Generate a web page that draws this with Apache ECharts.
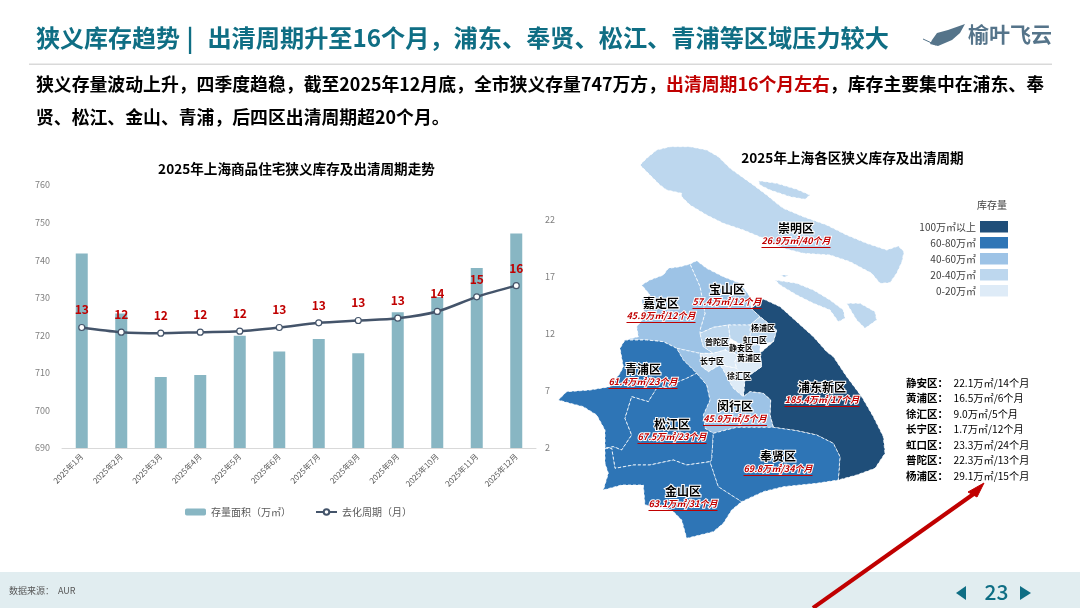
<!DOCTYPE html>
<html><head><meta charset="utf-8">
<style>html,body{margin:0;padding:0;background:#fff}#c{width:1080px;height:608px}</style>
<script src="https://cdn.jsdelivr.net/npm/echarts@6/dist/echarts.min.js"></script>
</head><body><div id="c"></div>
<script>
const FONT='"Noto Sans CJK SC","Noto Sans",sans-serif';
// chart data
const months=['2025年1月','2025年2月','2025年3月','2025年4月','2025年5月','2025年6月','2025年7月','2025年8月','2025年9月','2025年10月','2025年11月','2025年12月'];
const stockArea=[741.8,725.8,708.9,709.4,719.9,715.7,719,715.2,726.1,730.2,737.9,747.1];
const clearCycle=[12.54,12.13,12.04,12.13,12.22,12.54,12.95,13.15,13.35,13.94,15.22,16.2];
const leftTicks=[690,760];
const rightTicks=[2,7,12,17,22];
// district data
const districts=['崇明区','宝山区','嘉定区','青浦区','松江区','闵行区','浦东新区','奉贤区','金山区','杨浦区','虹口区','普陀区','静安区','长宁区','黄浦区','徐汇区'];
const districtStock=[26.9,57.4,45.9,61.4,67.5,45.9,185.4,69.8,63.1,29.1,23.3,22.3,22.1,1.7,16.5,9.0];
const districtMonths=[40,12,12,23,23,5,17,34,31,15,24,13,14,12,6,5];
const sideList=['静安区','黄浦区','徐汇区','长宁区','虹口区','普陀区','杨浦区'];
const smallDistricts=['杨浦区','虹口区','普陀区','静安区','长宁区','黄浦区','徐汇区'];
// map outlines (traced, 1/3 px units from page point 550,140)
const outlines={
'崇明区':[[[270,75],[290,55],[320,30],[360,20],[420,20],[470,30],[505,50],[540,85],[575,110],[610,135],[650,165],[680,190],[700,205],[760,230],[830,255],[890,285],[950,310],[1010,330],[1045,318],[1062,335],[1056,365],[1040,400],[1020,428],[990,430],[965,400],[900,365],[840,345],[760,340],[700,325],[640,295],[580,270],[520,250],[470,225],[420,195],[395,170],[395,160],[350,150],[330,135],[300,105]],
 [[625,122],[680,130],[740,148],[780,165],[765,178],[720,170],[660,150],[630,135]],
 [[675,420],[740,430],[790,450],[840,480],[880,510],[885,535],[865,545],[840,510],[790,490],[740,465],[690,435]],
 [[690,405],[715,405],[705,412]],
 [[890,490],[930,490],[975,515],[980,540],[945,565],[920,540],[905,515]]],
'浦东新区':[[[603,505],[640,477],[690,500],[740,545],[790,590],[830,635],[850,650],[890,710],[935,770],[970,830],[1000,890],[1005,940],[975,985],[920,1005],[865,1020],[870,950],[850,910],[800,885],[740,872],[670,862],[660,825],[662,780],[640,760],[600,755],[580,770],[585,715],[635,680],[630,640],[670,605],[680,570],[630,530]]],
'宝山区':[[[420,372],[440,362],[470,385],[520,410],[570,430],[600,470],[603,505],[630,530],[600,555],[535,555],[490,562],[450,580],[450,570],[465,520],[450,440]]],
'嘉定区':[[[275,435],[300,420],[340,405],[355,385],[390,380],[420,372],[450,440],[465,520],[450,570],[450,580],[460,620],[490,640],[450,640],[380,625],[340,605],[290,600],[225,600],[265,590],[260,560],[285,530],[275,480],[300,465]]],
'杨浦区':[[[600,555],[630,530],[680,570],[670,605],[630,615],[600,590]]],
'虹口区':[[[535,555],[600,555],[600,590],[630,615],[610,615],[575,615],[540,595]]],
'静安区':[[[535,610],[575,615],[610,615],[630,615],[630,640],[600,640],[565,645],[525,630]]],
'普陀区':[[[450,580],[490,562],[535,555],[540,595],[535,610],[525,630],[490,640],[460,620]]],
'长宁区':[[[450,640],[490,640],[525,630],[565,645],[555,665],[560,685],[510,675],[475,695],[455,680]]],
'黄浦区':[[[565,645],[600,640],[630,640],[635,680],[585,715],[560,685],[555,665]]],
'徐汇区':[[[510,675],[560,685],[585,715],[580,770],[550,745],[535,720],[520,690]]],
'闵行区':[[[380,625],[450,640],[455,680],[475,695],[510,675],[520,690],[535,720],[550,745],[580,770],[600,755],[640,760],[662,780],[660,825],[670,862],[610,862],[560,862],[490,880],[465,865],[460,825],[480,780],[470,735],[440,700],[400,660]]],
'青浦区':[[[225,600],[290,600],[340,605],[380,625],[400,660],[440,700],[410,715],[385,725],[370,740],[320,745],[295,785],[245,770],[225,835],[245,885],[215,930],[190,920],[165,925],[165,870],[140,825],[100,800],[60,790],[25,780],[50,755],[120,750],[180,740],[210,700],[220,680],[210,625]]],
'松江区':[[[440,700],[470,735],[480,780],[460,825],[465,865],[490,880],[485,960],[480,965],[410,975],[370,960],[300,975],[250,975],[195,985],[185,925],[165,925],[190,920],[215,930],[245,885],[225,835],[245,770],[295,785],[320,745],[370,740],[385,725],[410,715]]],
'金山区':[[[165,925],[185,925],[195,985],[250,975],[300,975],[370,960],[410,975],[480,965],[505,1040],[575,1085],[545,1110],[520,1150],[490,1175],[410,1195],[395,1140],[365,1110],[320,1100],[285,1095],[280,1035],[215,1035],[160,1050],[175,1000],[165,970]]],
'奉贤区':[[[490,880],[560,862],[610,862],[670,862],[740,872],[800,885],[850,910],[870,950],[865,1020],[800,1030],[700,1040],[640,1055],[575,1085],[505,1040],[480,965],[485,960]]]
};
const labelAt={'崇明区':[796,235],'宝山区':[727,296],'嘉定区':[661,310],'青浦区':[643,376],'松江区':[672,431],'闵行区':[735,413],'浦东新区':[822,394],'奉贤区':[778,463],'金山区':[683,498],'杨浦区':[763,328],'虹口区':[755,340],'普陀区':[717,342],'静安区':[741,348],'长宁区':[712,361],'黄浦区':[749,358],'徐汇区':[739,376]};
const toGeo=r=>r.map(p=>[550+p[0]/3,-(140+p[1]/3)]);
echarts.registerMap('sh',{type:'FeatureCollection',features:Object.keys(outlines).map(n=>({type:'Feature',
  properties:{name:n,cp:[labelAt[n][0],-labelAt[n][1]]},
  geometry:{type:'MultiPolygon',coordinates:outlines[n].map(r=>[toGeo(r)])}}))});
const ctx=document.createElement('canvas').getContext('2d');
function valText(i){return districtStock[i].toFixed(1)+'万㎡/'+districtMonths[i]+'个月';}
function measure(t){ctx.font='italic bold 9px '+FONT;return Math.ceil(ctx.measureText(t).width);}
const mapData=districts.map((n,i)=>{
  const small=smallDistricts.includes(n);
  const t=valText(i);
  return {name:n,value:districtStock[i],label:small?{formatter:'{s|'+n+'}'}:{
    formatter:'{n|'+n+'}\n{v|'+t+'}\n{u| }',
    rich:{n:{fontFamily:FONT,fontSize:12,fontWeight:'bold',color:'#000',lineHeight:14,textBorderColor:'#fff',textBorderWidth:2},
      v:{fontFamily:FONT,fontSize:9,fontStyle:'italic',fontWeight:'bold',color:'#C00000',lineHeight:11,textBorderColor:'#fff',textBorderWidth:2},
      u:{width:measure(t),height:1,lineHeight:2,fontSize:1,backgroundColor:'#C00000'}}}};
});
const g=[];
g.push({type:'rect',z:0,shape:{x:0,y:572,width:1080,height:36},style:{fill:'#E1EDF0'}});
g.push({type:'rect',z:0,shape:{x:29,y:63.5,width:1023,height:1.5},style:{fill:'#D9D9D9'}});
g.push({type:'text',z:5,x:36,y:38,style:{text:'狭义库存趋势',font:'bold 24px '+FONT,fill:'#0F6E84',verticalAlign:'middle'}});
g.push({type:'text',z:5,x:190,y:38,style:{text:'|',font:'bold 24px '+FONT,fill:'#0F6E84',align:'center',verticalAlign:'middle'}});
g.push({type:'text',z:5,x:889,y:38,style:{text:'出清周期升至16个月，浦东、奉贤、松江、青浦等区域压力较大',font:'bold 24.2px '+FONT,fill:'#0F6E84',align:'right',verticalAlign:'middle'}});
const bodyBase={fontFamily:FONT,fontSize:17.85,fontWeight:'bold'};
g.push({type:'text',z:5,x:36,y:84,style:{text:'{a|狭义存量波动上升，四季度趋稳，截至2025年12月底，全市狭义存量747万方，}{r|出清周期16个月左右}{a|，库存主要集中在浦东、奉}',
  verticalAlign:'middle',rich:{a:{...bodyBase,fill:'#000',color:'#000'},r:{...bodyBase,fill:'#C00000',color:'#C00000'}}}});
g.push({type:'text',z:5,x:36,y:117,style:{text:'贤、松江、金山、青浦，后四区出清周期超20个月。',font:'bold 17.85px '+FONT,fill:'#000',verticalAlign:'middle'}});
g.push({type:'polygon',z:5,shape:{points:[[932,40],[937,33],[948,30],[965,24],[960,33],[952,40],[938,46],[930,44]]},style:{fill:'#55748A'}});
g.push({type:'line',z:5,shape:{x1:923,y1:39,x2:936,y2:45},style:{stroke:'#55748A',lineWidth:1}});
g.push({type:'text',z:5,x:968,y:34,style:{text:'榆叶飞云',font:'bold 21px '+FONT,fill:'#55748A',verticalAlign:'middle'}});
g.push({type:'text',z:5,x:9,y:591,style:{text:'数据来源：  AUR',font:'9px '+FONT,fill:'#595959',verticalAlign:'middle'}});
g.push({type:'text',z:5,x:996.5,y:592,style:{text:'23',font:'500 21px '+FONT,fill:'#0F6E84',align:'center',verticalAlign:'middle'}});
g.push({type:'polygon',z:5,shape:{points:[[966,586],[966,600],[956,593]]},style:{fill:'#0F6E84'}});
g.push({type:'polygon',z:5,shape:{points:[[1020,586],[1020,600],[1031,593]]},style:{fill:'#0F6E84'}});
g.push({type:'text',z:5,x:1007,y:205,style:{text:'库存量',font:'10px '+FONT,fill:'#404040',align:'right',verticalAlign:'middle'}});
sideList.forEach((n,k)=>{
  const i=districts.indexOf(n),y=383+k*15.45;
  g.push({type:'text',z:5,x:906,y,style:{text:n+'：',font:'bold 10.5px '+FONT,fill:'#000',verticalAlign:'middle'}});
  g.push({type:'text',z:5,x:953.5,y,style:{text:valText(i),font:'10.2px '+FONT,fill:'#000',verticalAlign:'middle'}});
});
g.push({type:'line',z:20,shape:{x1:813,y1:608,x2:975,y2:493},style:{stroke:'#C00000',lineWidth:4}});
g.push({type:'polygon',z:20,shape:{points:[[984,483],[977,497],[968,492]]},style:{fill:'#C00000',stroke:'#C00000',lineWidth:1}});

const chart=echarts.init(document.getElementById('c'),null,{renderer:'canvas'});
chart.setOption({
  animation:false,
  textStyle:{fontFamily:FONT},
  title:[
    {text:'2025年上海商品住宅狭义库存及出清周期走势',left:291.5,top:164,textAlign:'center',textVerticalAlign:'middle',textStyle:{fontFamily:FONT,fontSize:13.6,fontWeight:'bold',color:'#000'}},
    {text:'2025年上海各区狭义库存及出清周期',left:847.5,top:153,textAlign:'center',textVerticalAlign:'middle',textStyle:{fontFamily:FONT,fontSize:13.6,fontWeight:'bold',color:'#000'}}
  ],
  grid:{left:62,right:544,top:185,bottom:160},
  legend:{data:['存量面积（万㎡）','去化周期（月）'],left:180,top:502,itemWidth:21,itemHeight:7,itemGap:24,textStyle:{fontFamily:FONT,fontSize:10,color:'#595959'}},
  xAxis:{type:'category',data:months,axisLine:{lineStyle:{color:'#D9D9D9'}},axisTick:{show:false},axisLabel:{rotate:45,interval:0,fontSize:8,color:'#595959',margin:7,fontFamily:FONT}},
  yAxis:[
    {type:'value',min:leftTicks[0],max:leftTicks[1],interval:10,splitLine:{show:false},axisLine:{show:false},axisTick:{show:false},axisLabel:{fontSize:9,color:'#7F7F7F',margin:12,fontFamily:FONT}},
    {type:'value',position:'right',min:2,max:25,splitLine:{show:false},axisLine:{show:false},axisTick:{show:false},axisLabel:{customValues:rightTicks,fontSize:9,color:'#7F7F7F',margin:9,fontFamily:FONT}}
  ],
  visualMap:{type:'piecewise',seriesIndex:2,right:57,top:206,orient:'vertical',align:'right',itemSymbol:'rect',itemWidth:28,itemHeight:11.5,itemGap:4.5,hoverLink:false,selectedMode:false,
    textStyle:{fontFamily:FONT,fontSize:10,color:'#404040'},textGap:4,
    pieces:[
      {min:100,label:'100万㎡以上',color:'#1F4E79'},
      {min:60,max:80,label:'60-80万㎡',color:'#2E75B6'},
      {min:40,max:60,label:'40-60万㎡',color:'#9DC3E6'},
      {min:20,max:40,label:'20-40万㎡',color:'#BDD7EE'},
      {min:0,max:20,label:'0-20万㎡',color:'#DEEBF7'}
    ]},
  series:[
    {name:'存量面积（万㎡）',type:'bar',data:stockArea,barWidth:12,itemStyle:{color:'#88B6C3'}},
    {name:'去化周期（月）',type:'line',yAxisIndex:1,data:clearCycle,smooth:0.3,symbol:'circle',symbolSize:6,z:5,
      lineStyle:{color:'#44546A',width:2.5},itemStyle:{color:'#fff',borderColor:'#44546A',borderWidth:1.2},
      label:{show:true,position:'top',distance:8,fontFamily:FONT,fontSize:12,fontWeight:'bold',color:'#C00000',formatter:p=>Math.round(p.value)}},
    {type:'map',map:'sh',roam:false,silent:true,aspectScale:1,left:0,top:0,width:1080,height:608,
      boundingCoords:[[0,0],[1080,-608]],data:mapData,showLegendSymbol:false,
      itemStyle:{borderColor:'#fff',borderWidth:0.8,borderType:[3,2]},
      label:{show:true,fontFamily:FONT,rich:{s:{fontFamily:FONT,fontSize:8,fontWeight:'bold',color:'#000',textBorderColor:'#fff',textBorderWidth:1.5}}},
      emphasis:{disabled:true}}
  ],
  graphic:g
});
</script></body></html>
